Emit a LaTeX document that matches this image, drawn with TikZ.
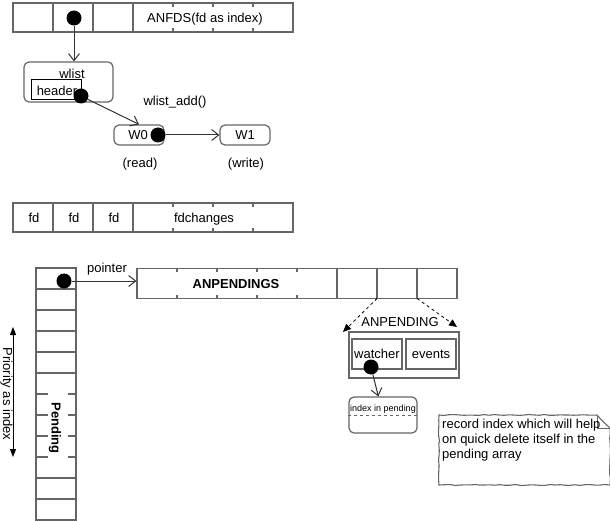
\documentclass[tikz,border=0pt]{standalone}
\usepackage{fontspec}
\setmainfont{Liberation Sans}
\usepackage{tikz}
\usetikzlibrary{arrows.meta, positioning, decorations.pathmorphing}
\definecolor{lvGrey}{HTML}{666666}
\definecolor{lvDark}{HTML}{333333}
\newcommand\lvfont{\fontsize{13}{15}\selectfont}
\newcommand\lvsmall{\fontsize{9}{11}\selectfont}
\tikzset{
  lv/array/.style     = {rectangle, draw=lvGrey, line width=1.2pt, inner sep=0pt},
  lv/box/.style       = {rectangle, draw=lvGrey, line width=1.2pt, inner sep=0pt, font=\lvfont},
  lv/rbox/.style      = {lv/box, rounded corners=5pt},
  lv/hbox/.style      = {rectangle, draw=black, line width=1pt, inner sep=0pt, font=\lvfont},
  lv/div/.style       = {draw=lvGrey, line width=1.2pt},
  lv/dot/.style       = {circle, fill=black, inner sep=0pt, minimum size=15pt},
  lv/label/.style     = {font=\lvfont, inner sep=0pt, text height=9.5pt, text depth=2.7pt},
  lv/arrow/.style     = {-{Straight Barb[length=7pt,width=11pt]}, draw=lvDark, line width=1pt},
  lv/dasharrow/.style = {-{Triangle[length=8pt,width=7pt]}, draw=black, line width=0.8pt,
                         dash pattern=on 3pt off 3pt},
  lv/biarrow/.style   = {{Triangle[length=8pt,width=6pt]}-{Triangle[length=8pt,width=6pt]},
                         draw=black, line width=1pt},
  lv/note/.style      = {draw=lvGrey, line width=1.1pt, decorate,
                         decoration={random steps, segment length=5pt, amplitude=0.5pt}},
}
\begin{document}
\begin{tikzpicture}[x=1pt, y=-1pt]
  \useasboundingbox (0,0) rectangle (610,521);
  % ANFDS array
  \node[lv/array, minimum width=280, minimum height=29] (anfds) at (153,17.5) {};
  \foreach \x in {53,93,133}
    \draw[lv/div] (\x,3) -- (\x,32);
  \foreach \x in {173,213,253} {
    \draw[lv/div] (\x,3) -- ++(0,4);
    \draw[lv/div] (\x,32) -- ++(0,-4);
  }
  \node[lv/label] (anfdsText) at (205,19) {ANFDS(fd as index)};
  \node[lv/dot] (adot) at (74,18) {};
  % watcher list
  \node[lv/rbox, minimum width=89, minimum height=40] (wlist) at (68.5,82) {};
  \node[lv/label] (wlistText) at (72,75) {wlist};
  \node[lv/hbox, minimum width=50, minimum height=20] (header) at (56,90) {};
  \node[lv/label] (headerText) at (57,92) {header};
  \node[lv/dot] (hdot) at (81,96) {};
  \node[lv/rbox, minimum width=50, minimum height=20] (w0) at (139,135) {};
  \node[lv/label] (w0Text) at (138,136) {W0};
  \node[lv/dot] (w0dot) at (158,135) {};
  \node[lv/rbox, minimum width=50, minimum height=20] (w1) at (245,135) {W1};
  \node[lv/label] (addText) at (175,102) {wlist\_add()};
  \node[lv/label] (readText) at (140,164) {(read)};
  \node[lv/label] (writeText) at (246,164) {(write)};
  % fdchanges array
  \node[lv/array, minimum width=280, minimum height=29] (fdch) at (153,217.5) {};
  \foreach \x in {53,93,133}
    \draw[lv/div] (\x,203) -- (\x,232);
  \foreach \x in {173,213,253} {
    \draw[lv/div] (\x,203) -- ++(0,4);
    \draw[lv/div] (\x,232) -- ++(0,-4);
  }
  \foreach \x/\n in {34/a,74/b,114/c}
    \node[lv/label] (fd\n) at (\x,219) {fd};
  \node[lv/label] (fdchText) at (204,219) {fdchanges};
  % pending column
  \node[lv/array, minimum width=40, minimum height=252] (pend) at (56,394) {};
  \foreach \y in {289,310,331,352,373,478,499}
    \draw[lv/div] (36,\y) -- (76,\y);
  \foreach \y in {394,415,436,457} {
    \draw[lv/div] (36,\y) -- ++(12,0);
    \draw[lv/div] (76,\y) -- ++(-8,0);
  }
  \node[lv/label, font=\lvfont\bfseries, rotate=-90] (pendText) at (55,428) {Pending};
  \node[lv/dot] (pdot) at (64,281) {};
  \node[lv/label] (ptrText) at (107,269) {pointer};
  \coordinate (prTop) at (13,327);
  \coordinate (prBot) at (13,457);
  \node[lv/label, rotate=-90] (prText) at (6.5,394) {Priority as index};
  % ANPENDINGS array
  \node[lv/array, minimum width=320, minimum height=30] (anp) at (297,283.5) {};
  \foreach \x in {337,377,417}
    \draw[lv/div] (\x,268.5) -- (\x,298.5);
  \foreach \x in {177,217,257,297} {
    \draw[lv/div] (\x,268.5) -- ++(0,4);
    \draw[lv/div] (\x,298.5) -- ++(0,-4);
  }
  \node[lv/label, font=\lvfont\bfseries] (anpText) at (236,285) {ANPENDINGS};
  % ANPENDING element
  \coordinate (c7) at (377,298.5);
  \coordinate (c8) at (417,298.5);
  \coordinate (apL) at (343,332);
  \coordinate (apR) at (457,327);
  \node[lv/label] (apText) at (400,323) {ANPENDING};
  \node[lv/box, minimum width=110, minimum height=46] (anpending) at (404,355) {};
  \node[lv/box, minimum width=50, minimum height=30] (watcher) at (377,354) {watcher};
  \node[lv/box, minimum width=50, minimum height=30] (events) at (431,354) {events};
  \node[lv/dot] (wdot) at (371,367) {};
  \node[lv/rbox, minimum width=68, minimum height=36] (idx) at (383,415) {};
  \node[lv/label, font=\lvsmall, text height=7pt, text depth=2pt] (idxText) at (383,408.5) {index in pending};
  % note
  \draw[lv/note] (439,415) -- (597,415) -- (610,428) -- (610,485) -- (439,485) -- cycle;
  \draw[lv/div, line width=0.9pt] (597,415) -- (597,428) -- (610,428);
  \node[lv/label, anchor=north west, align=left, text height=, text depth=] (noteText) at (442,418.5)
    {record index which will help\\on quick delete itself in the\\pending array};
  % arrows
  \draw[lv/arrow] (adot) -- (adot |- wlist.north);
  \draw[lv/arrow] (hdot) -- (w0.north);
  \draw[lv/arrow] (w0dot) -- (w1.west);
  \draw[lv/arrow] (pdot) -- (pdot -| anp.west);
  \draw[lv/arrow] (wdot) -- (idx);
  \draw[lv/dasharrow] (c7) -- (apL);
  \draw[lv/dasharrow] (c8) -- (apR);
  \draw[lv/biarrow] (prTop) -- (prBot);
  \draw[lv/div, line width=0.8pt, dashed] (idx.west) -- (idx.east);
\end{tikzpicture}
\end{document}
